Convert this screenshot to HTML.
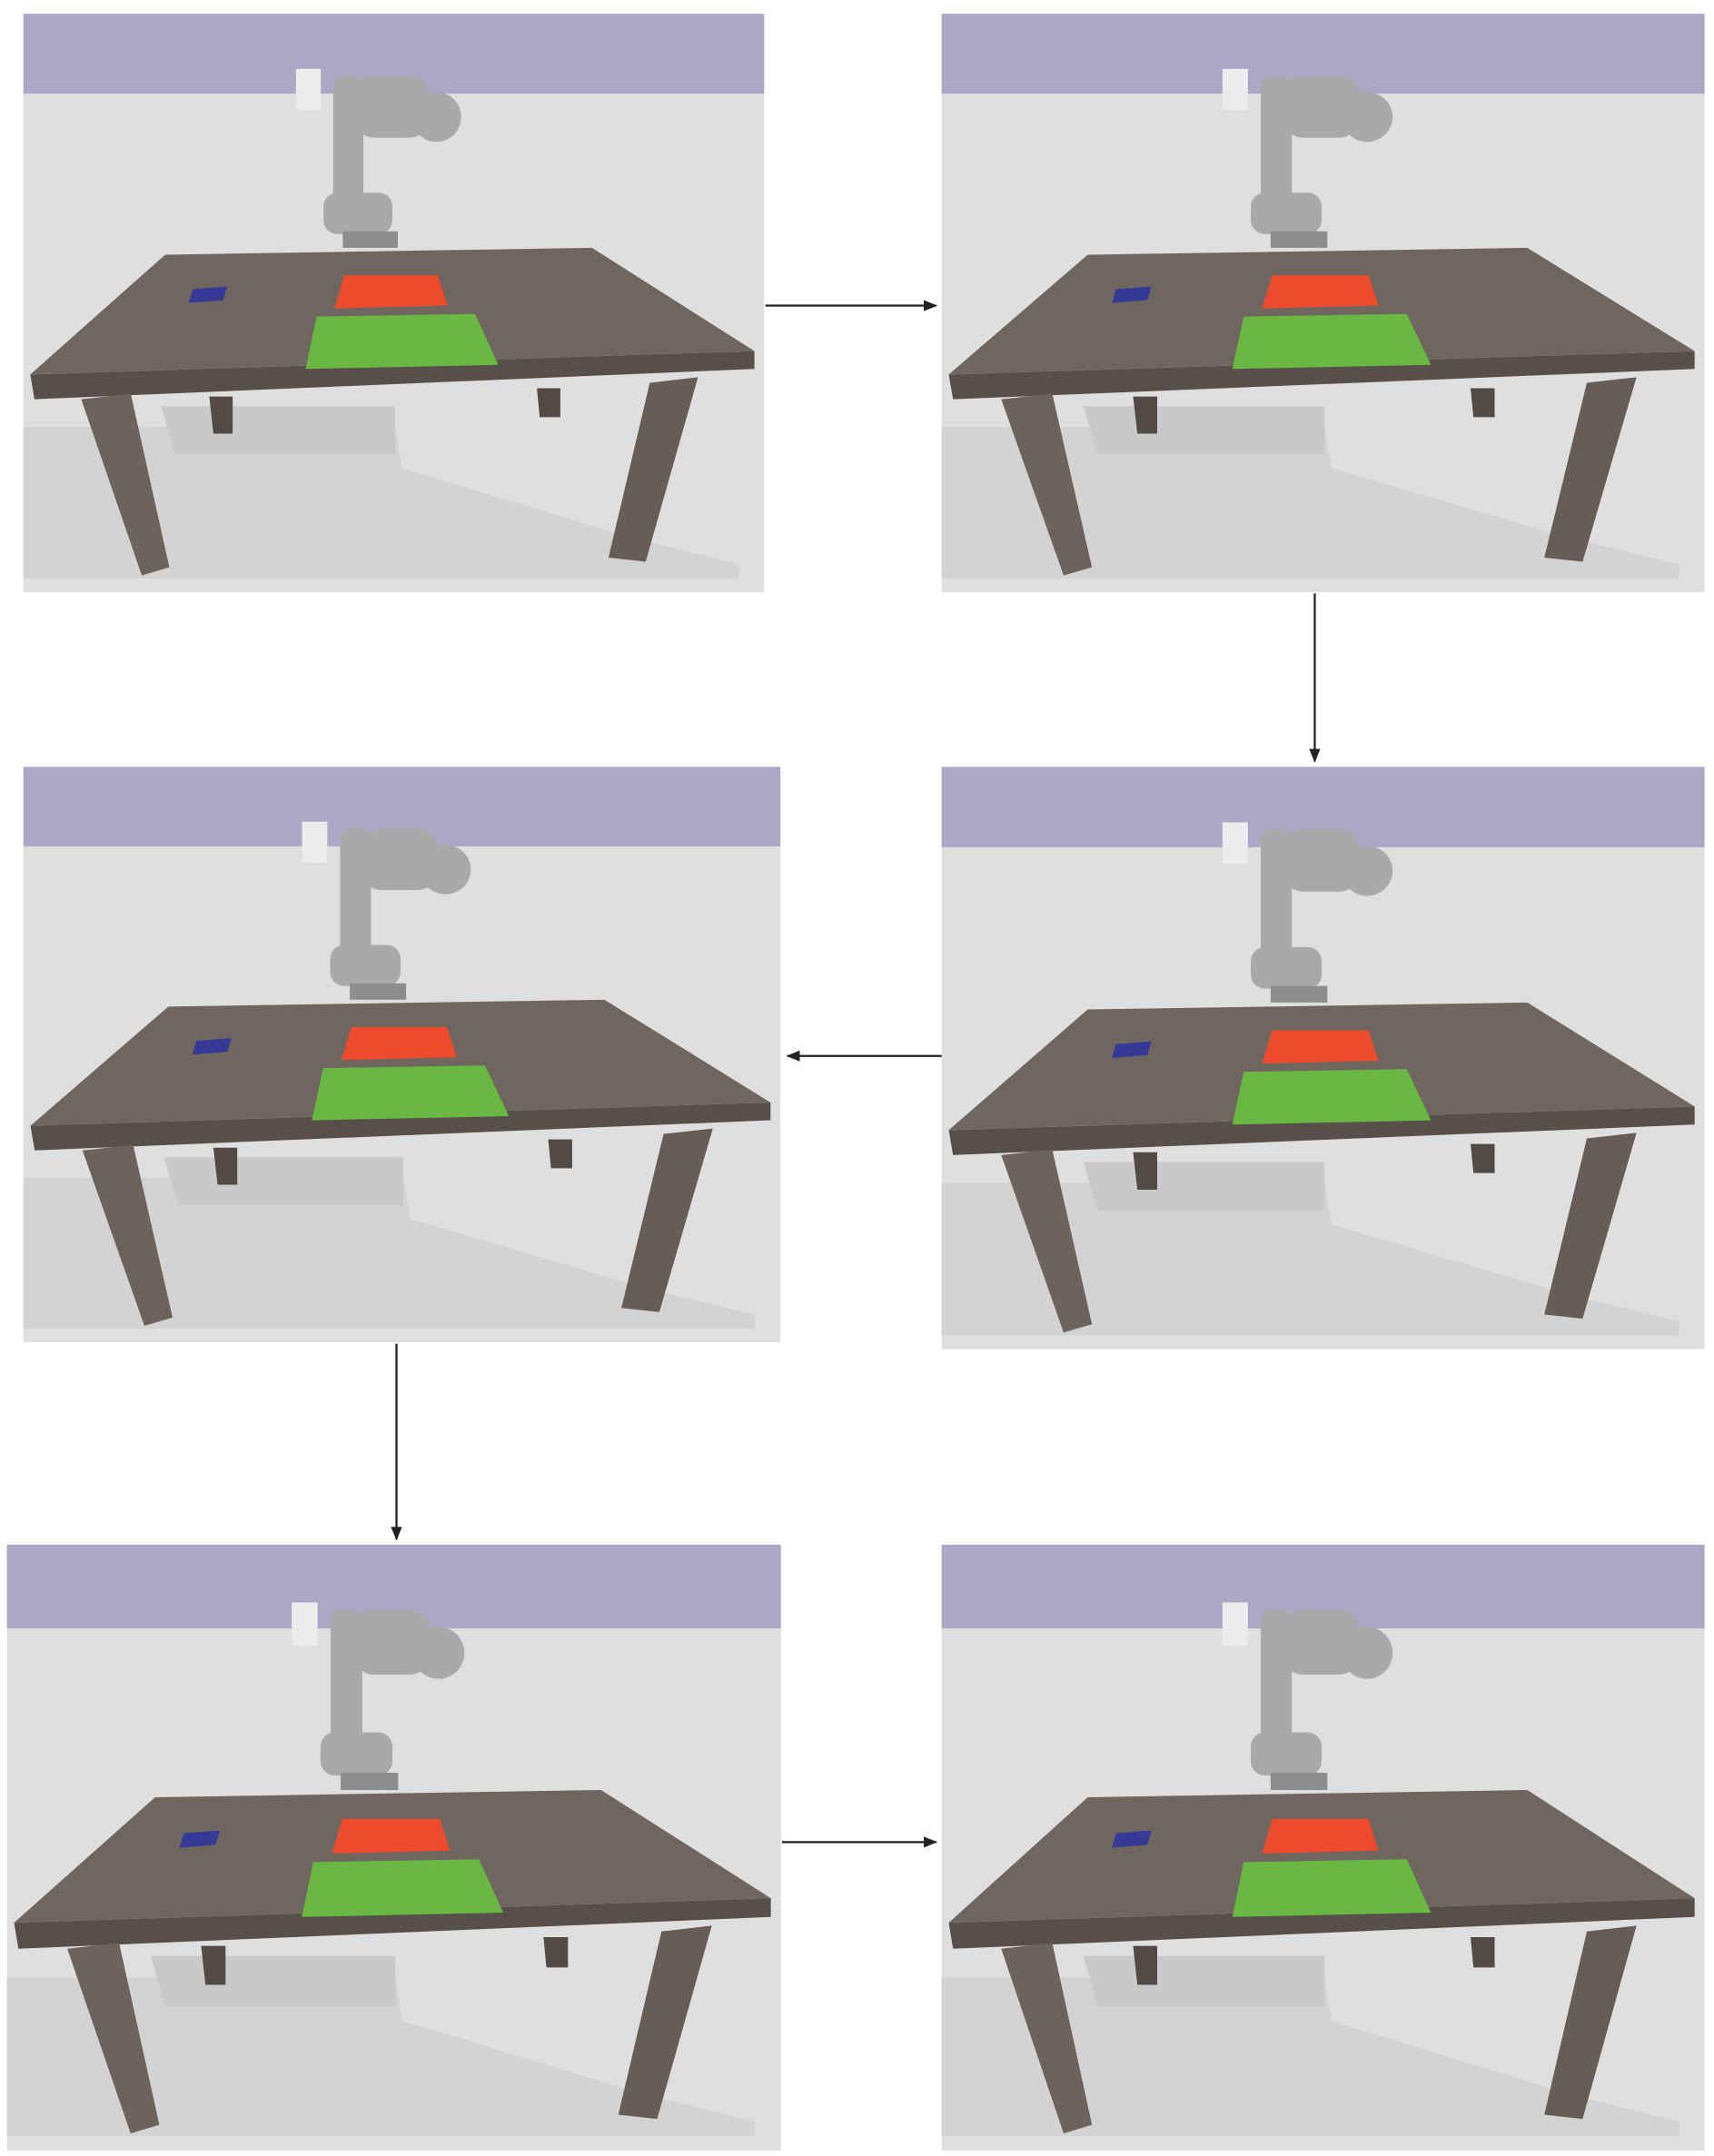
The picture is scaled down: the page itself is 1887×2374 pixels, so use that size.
<!DOCTYPE html>
<html><head><meta charset="utf-8"><style>html,body{margin:0;padding:0;background:#fff}svg{display:block}</style></head>
<body>
<svg width="1887" height="2374" viewBox="0 0 1245 1566" preserveAspectRatio="none" xmlns="http://www.w3.org/2000/svg">
<defs>
<g id="scene">
  <rect x="0" y="0" width="538" height="420" fill="#e0dfe0"/>
  <rect x="0" y="0" width="538" height="58" fill="#aaa8c5"/>
  <polygon points="0,300 270,300 275,330 440,380 520,400 520,410 0,410" fill="#d3d3d4"/>
  <polygon points="100,285 270,285 270,320 110,320" fill="#c9c9ca"/>
  <polygon points="5,262 531,245 531,258 8,280" fill="#57504a"/>
  <polygon points="103,175 413,170 531,245 5,262" fill="#6f675f"/>
  <polygon points="135,278 152,278 152,305 138,305" fill="#524b45"/>
  <polygon points="373,272 390,272 390,293 375,293" fill="#524b45"/>
  <polygon points="42,280 78,276 106,402 86,408" fill="#6c645c"/>
  <polygon points="455,268 490,264 452,398 425,395" fill="#655d56"/>
  <polygon points="233,190 301,190 308,212 226,214" fill="#ee4a2e"/>
  <polygon points="213,220 328,218 345,255 205,258" fill="#6ab843"/>
  <polygon points="123,200 148,198 145,208 120,210" fill="#343a96"/>
  <g fill="#a9a9ab">
    <rect x="198" y="40" width="18" height="30" fill="#ececec"/>
    <rect x="225" y="45" width="22" height="110" rx="8"/>
    <rect x="218" y="130" width="50" height="30" rx="10"/>
    <rect x="240" y="45" width="55" height="45" rx="15"/>
    <circle cx="300" cy="75" r="18"/>
    <rect x="232" y="158" width="40" height="12" fill="#8d8d8f"/>
  </g>
</g>
<marker id="ah" markerWidth="10" markerHeight="8" refX="9" refY="4" orient="auto" markerUnits="userSpaceOnUse"><path d="M0,0 L10,4 L0,8 z" fill="#222"/></marker>
</defs>
<use href="#scene" transform="translate(17,10)"/>
<use href="#scene" transform="translate(684,10) scale(1.03,1)"/>
<use href="#scene" transform="translate(17,557) scale(1.022,0.995)"/>
<use href="#scene" transform="translate(684,557) scale(1.03,1.007)"/>
<use href="#scene" transform="translate(5,1122) scale(1.045,1.048)"/>
<use href="#scene" transform="translate(684,1122) scale(1.03,1.048)"/>
<g stroke="#222" stroke-width="1.5" fill="none">
  <line x1="556" y1="222" x2="680" y2="222" marker-end="url(#ah)"/>
  <line x1="955" y1="431" x2="955" y2="553" marker-end="url(#ah)"/>
  <line x1="684" y1="767" x2="572" y2="767" marker-end="url(#ah)"/>
  <line x1="288" y1="976" x2="288" y2="1118" marker-end="url(#ah)"/>
  <line x1="568" y1="1338" x2="680" y2="1338" marker-end="url(#ah)"/>
</g>
</svg>
</body></html>
